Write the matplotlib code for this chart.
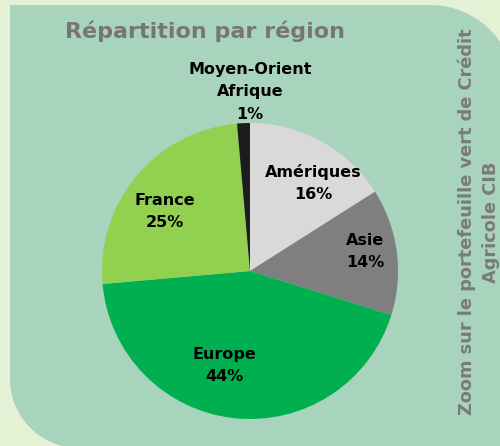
import numpy as np
import matplotlib
matplotlib.use("Agg")
import matplotlib.pyplot as plt
from matplotlib.patches import Polygon

# données
regions = ["Amériques", "Asie", "Europe", "France", "Moyen-Orient\nAfrique"]
parts = [16.0, 13.8, 43.8, 25.0, 1.4]
pct_labels = ["16%", "14%", "44%", "25%", "1%"]
colors = ["#d9d9d9", "#7f7f7f", "#00b050", "#92d050", "#1c1c1c"]

W, H = 500, 446
fig = plt.figure(figsize=(W / 100, H / 100), dpi=100)
fig.patch.set_facecolor("#e5f1d5")

# fond vert arrondi (coin haut-droit et bas-gauche)
bg = fig.add_axes([0, 0, 1, 1])
bg.set_xlim(0, W)
bg.set_ylim(H, 0)
bg.axis("off")
r1, r2 = 85, 69
left, top, right, bottom = 10, 5, 515, 448
t = np.linspace(-np.pi / 2, 0, 40)
arc_tr = np.c_[right - r1 + r1 * np.cos(t), top + r1 + r1 * np.sin(t)]
t2 = np.linspace(np.pi / 2, np.pi, 40)
arc_bl = np.c_[left + r2 + r2 * np.cos(t2), bottom - r2 + r2 * np.sin(t2)]
pts = np.vstack([[left, top], arc_tr, [right, bottom], arc_bl])
bg.add_patch(Polygon(pts, closed=True, facecolor="#a8d3bc", edgecolor="none"))

fig.text(205 / W, 1 - 31 / H, "Répartition par région", ha="center", va="center",
         fontsize=16, fontweight="bold", color="#767676")
fig.text(479 / W, 1 - 222 / H, "Zoom sur le portefeuille vert de Crédit\nAgricole CIB",
         ha="center", va="center", rotation=90, fontsize=12.8, fontweight="bold",
         color="#7a7a7a", linespacing=1.45)

# camembert
cx, cy, R = 250, 271, 148
size = 2 * 1.25 * R
ax = fig.add_axes([(cx - size / 2) / W, (H - cy - size / 2) / H, size / W, size / H])
wedges, _ = ax.pie(parts, colors=colors, startangle=90, counterclock=False,
                   wedgeprops=dict(linewidth=0))
ax.set_xlim(-1.25, 1.25)
ax.set_ylim(-1.25, 1.25)
ax.set_aspect("equal")
ax.axis("off")

dists = [0.73, 0.79, 0.66, 0.70, 1.21]
shifts = [-7, 2, -9, 5, -2.5]
for w, name, pct, d, s in zip(wedges, regions, pct_labels, dists, shifts):
    ang = np.deg2rad((w.theta1 + w.theta2) / 2 + s)
    ax.text(d * np.cos(ang), d * np.sin(ang), f"{name}\n{pct}", ha="center",
            va="center", fontsize=11.5, fontweight="bold", color="black",
            linespacing=1.6)

plt.savefig("out.png", dpi=100, facecolor=fig.get_facecolor())
